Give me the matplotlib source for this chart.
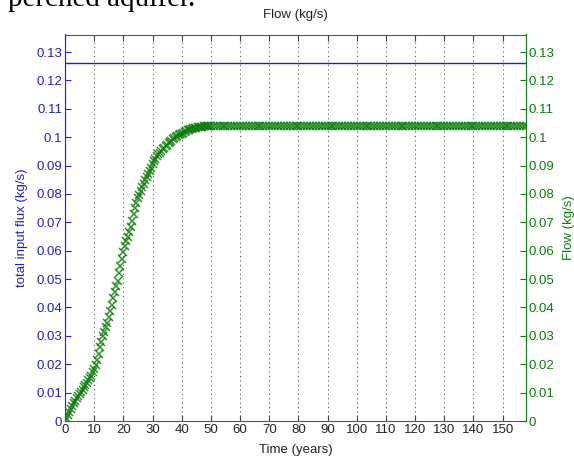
import matplotlib
matplotlib.use("Agg")
import matplotlib.pyplot as plt

plt.rcParams['font.family'] = ['Liberation Sans', 'DejaVu Sans']

# Simulated outflow from the aquifer (kg/s): half-year samples during the
# rise (0-50 years), yearly samples on the plateau (51-158 years)
rise_time = [i * 0.5 for i in range(0, 101)]
rise_flow = [
    0.0000, 0.0010, 0.0020, 0.0031, 0.0042, 0.0052, 0.0062, 0.0071, 0.0080, 0.0088,
    0.0095, 0.0102, 0.0110, 0.0119, 0.0128, 0.0135, 0.0143, 0.0151, 0.0160, 0.0172,
    0.0185, 0.0199, 0.0215, 0.0237, 0.0260, 0.0280, 0.0300, 0.0315, 0.0330, 0.0347,
    0.0365, 0.0387, 0.0410, 0.0432, 0.0455, 0.0475, 0.0495, 0.0520, 0.0545, 0.0570,
    0.0595, 0.0615, 0.0635, 0.0650, 0.0665, 0.0685, 0.0705, 0.0728, 0.0750, 0.0768,
    0.0785, 0.0798, 0.0810, 0.0823, 0.0835, 0.0848, 0.0860, 0.0870, 0.0880, 0.0893,
    0.0905, 0.0915, 0.0925, 0.0933, 0.0940, 0.0946, 0.0952, 0.0958, 0.0963, 0.0968,
    0.0973, 0.0978, 0.0983, 0.0988, 0.0992, 0.0996, 0.1000, 0.1004, 0.1007, 0.1010,
    0.1012, 0.1015, 0.1018, 0.1021, 0.1024, 0.1026, 0.1028, 0.1030, 0.1031, 0.1033,
    0.1034, 0.1035, 0.1036, 0.1037, 0.1037, 0.1038, 0.1038, 0.1039, 0.1039, 0.1039,
    0.1039,
]
plateau_time = list(range(51, 159))
plateau_flow = [
    0.1039, 0.1039, 0.1039, 0.1039, 0.1039, 0.1039, 0.1039, 0.1039, 0.1039, 0.1039,
    0.1039, 0.1039, 0.1039, 0.1039, 0.1039, 0.1039, 0.1039, 0.1039, 0.1039, 0.1039,
    0.1039, 0.1039, 0.1039, 0.1039, 0.1039, 0.1039, 0.1039, 0.1039, 0.1039, 0.1039,
    0.1039, 0.1039, 0.1039, 0.1039, 0.1039, 0.1039, 0.1039, 0.1039, 0.1039, 0.1039,
    0.1039, 0.1039, 0.1039, 0.1039, 0.1039, 0.1039, 0.1039, 0.1039, 0.1039, 0.1039,
    0.1039, 0.1039, 0.1039, 0.1039, 0.1039, 0.1039, 0.1039, 0.1039, 0.1039, 0.1039,
    0.1039, 0.1039, 0.1039, 0.1039, 0.1039, 0.1039, 0.1039, 0.1039, 0.1039, 0.1039,
    0.1039, 0.1039, 0.1039, 0.1039, 0.1039, 0.1039, 0.1039, 0.1039, 0.1039, 0.1039,
    0.1039, 0.1039, 0.1039, 0.1039, 0.1039, 0.1039, 0.1039, 0.1039, 0.1039, 0.1039,
    0.1039, 0.1039, 0.1039, 0.1039, 0.1039, 0.1039, 0.1039, 0.1039, 0.1039, 0.1039,
    0.1039, 0.1039, 0.1039, 0.1039, 0.1039, 0.1039, 0.1039, 0.1039,
]
time_years = rise_time + plateau_time
flow = rise_flow + plateau_flow

# Total input flux (constant recharge, kg/s)
input_flux = 0.1263
time_span = [0, 158]

x_ticks = list(range(0, 151, 10))
y_ticks = [0, 0.01, 0.02, 0.03, 0.04, 0.05, 0.06, 0.07, 0.08, 0.09, 0.1,
           0.11, 0.12, 0.13]
y_tick_labels = ['0', '0.01', '0.02', '0.03', '0.04', '0.05', '0.06', '0.07',
                 '0.08', '0.09', '0.1', '0.11', '0.12', '0.13']

blue = '#2020c8'
green = '#0a7d0a'
fs = 9.5

fig = plt.figure(figsize=(5.74, 4.57), dpi=100)
ax = fig.add_axes([65 / 574, 36 / 457, 461 / 574, 386.5 / 457])

ax.plot(time_span, [input_flux, input_flux], color=blue, linewidth=1.0)
ax.set_xlim(0, 158)
ax.set_ylim(0, 0.1362)
ax.set_xticks(x_ticks)
ax.set_xticklabels([str(v) for v in x_ticks], fontsize=fs, color='#222222')
ax.set_yticks(y_ticks)
ax.set_yticklabels(y_tick_labels, fontsize=fs, color=blue)
ax.tick_params(axis='x', direction='in', top=True, length=4, colors='#444444',
               labelcolor='#222222', pad=2)
ax.tick_params(axis='y', direction='in', length=4, colors=blue, labelcolor=blue,
               pad=2)
ax.xaxis.grid(True, linestyle=(0, (1, 3)), color='#555555', linewidth=0.8)
ax.set_axisbelow(True)
ax.set_ylabel('total input flux (kg/s)', color=blue, fontsize=fs, labelpad=6)
ax.set_xlabel('Time (years)', fontsize=fs, color='#222222', labelpad=6)
ax.set_title('Flow (kg/s)', fontsize=fs, color='#222222', pad=12)
ax.spines['left'].set_color(blue)
ax.spines['top'].set_color('#555555')
ax.spines['bottom'].set_color('#555555')
ax.spines['right'].set_visible(False)

ax2 = ax.twinx()
ax2.plot(time_years, flow, linestyle='none', marker='x', markersize=5.5,
         markeredgewidth=1.1, color=green, alpha=0.85)
ax2.set_xlim(0, 158)
ax2.set_ylim(0, 0.1362)
ax2.set_yticks(y_ticks)
ax2.set_yticklabels(y_tick_labels, fontsize=fs, color=green)
ax2.tick_params(axis='y', direction='in', length=4, colors=green,
                labelcolor=green, pad=2)
ax2.set_ylabel('Flow (kg/s)', color=green, fontsize=fs, labelpad=6)
ax2.spines['right'].set_color(green)
ax2.spines['left'].set_visible(False)
ax2.spines['top'].set_visible(False)
ax2.spines['bottom'].set_visible(False)

# Fragment of the surrounding document text above the figure
fig.text(8 / 574, 1 - 6 / 457, 'perched aquifer.', family='Liberation Serif',
         fontsize=21, color='black', ha='left', va='baseline')

fig.savefig('out.png', dpi=100)
